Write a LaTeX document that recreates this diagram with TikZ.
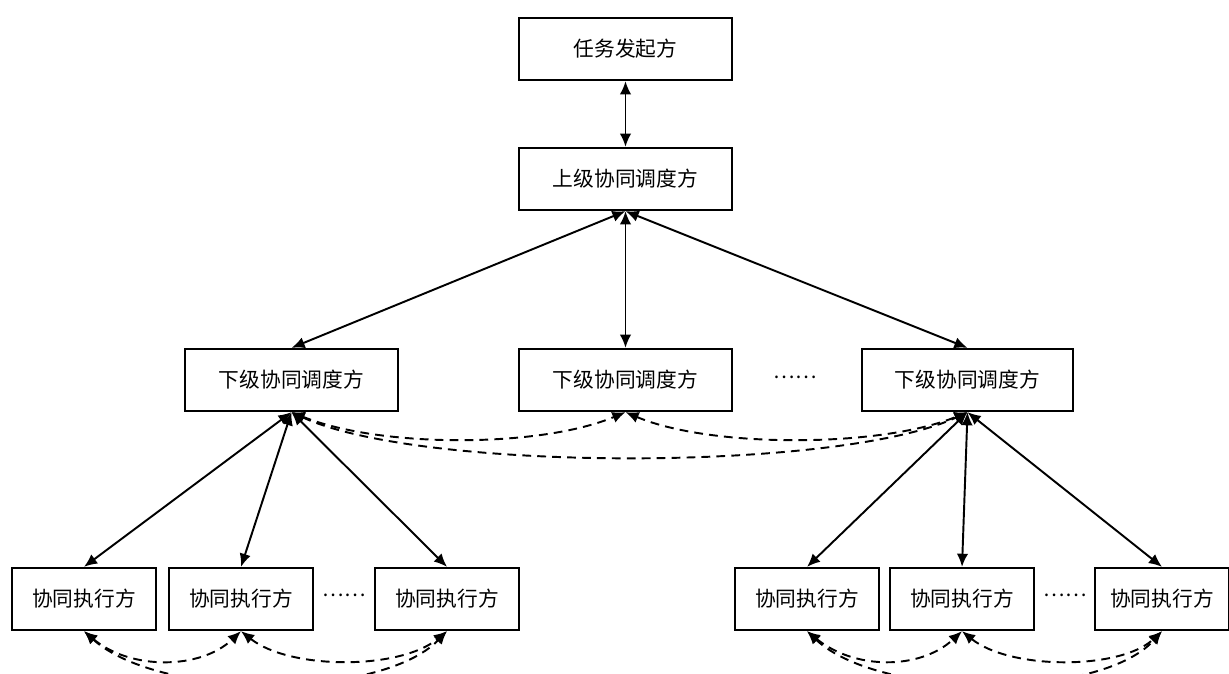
\documentclass[tikz,border=0pt]{standalone}
\usepackage{fontspec}
\newfontfamily\cjk{Noto Sans CJK SC}
\usetikzlibrary{arrows.meta}

\begin{document}
\begin{tikzpicture}[x=0.02cm,y=-0.02cm,
  box/.style={draw,line width=1.3pt,minimum height=1.24cm,inner sep=0pt,font=\cjk\fontsize{11.8}{14}\selectfont},
  bigbox/.style={box,minimum width=4.26cm},
  smallbox/.style={box,minimum width=2.88cm},
  dots/.style={font=\cjk\fontsize{11.5}{14}\selectfont},
  link/.style={{Latex[length=7.5pt,width=6.5pt]}-{Latex[length=7.5pt,width=6.5pt]},line width=1.1pt},
  dlink/.style={link,dash pattern=on 5pt off 3.5pt}]
\useasboundingbox (0,0) rectangle (1229,673);

\node[bigbox] (start) at (625.5,49) {任务发起方};
\node[bigbox] (up) at (625.5,179) {上级协同调度方};
\node[bigbox] (lowa) at (291.5,380) {下级协同调度方};
\node[bigbox] (lowb) at (625.5,380) {下级协同调度方};
\node[bigbox,minimum width=4.22cm] (lowc) at (967.5,380) {下级协同调度方};
\node[dots] (dotsa) at (795,377) {……};

\node[smallbox] (exa) at (84,599) {协同执行方};
\node[smallbox] (exb) at (241,599) {协同执行方};
\node[smallbox] (exc) at (447,599) {协同执行方};
\node[dots] (dotsb) at (344,595) {……};
\node[smallbox] (exd) at (807,599) {协同执行方};
\node[smallbox] (exe) at (962,599) {协同执行方};
\node[smallbox,minimum width=2.68cm] (exf) at (1162,599) {协同执行方};
\node[dots] (dotsc) at (1065,595) {……};

\draw[link] (start) -- (up);
\draw[link] (up.south) -- (lowa.north);
\draw[link] (up) -- (lowb);
\draw[link] (up.south) -- (lowc.north);

\draw[link] (lowa.south) -- (exa.north);
\draw[link] (lowa.south) -- (exb.north);
\draw[link] (lowa.south) -- (exc.north);
\draw[link] (lowc.south) -- (exd.north);
\draw[link] (lowc.south) -- (exe.north);
\draw[link] (lowc.south) -- (exf.north);

\draw[dlink] (lowa.south) .. controls (380,448) and (540,448) .. (lowb.south);
\draw[dlink] (lowb.south) .. controls (710,448) and (880,448) .. (lowc.south);
\draw[dlink] (lowa.south) .. controls (420,472) and (840,472) .. (lowc.south);

\draw[dlink] (exa.south) .. controls (130,670) and (200,670) .. (exb.south);
\draw[dlink] (exb.south) .. controls (290,670) and (400,670) .. (exc.south);
\draw[dlink] (exa.south) .. controls (160,700) and (380,700) .. (exc.south);
\draw[dlink] (exd.south) .. controls (855,670) and (920,670) .. (exe.south);
\draw[dlink] (exe.south) .. controls (1010,670) and (1120,670) .. (exf.south);
\draw[dlink] (exd.south) .. controls (880,700) and (1100,700) .. (exf.south);
\end{tikzpicture}
\end{document}
